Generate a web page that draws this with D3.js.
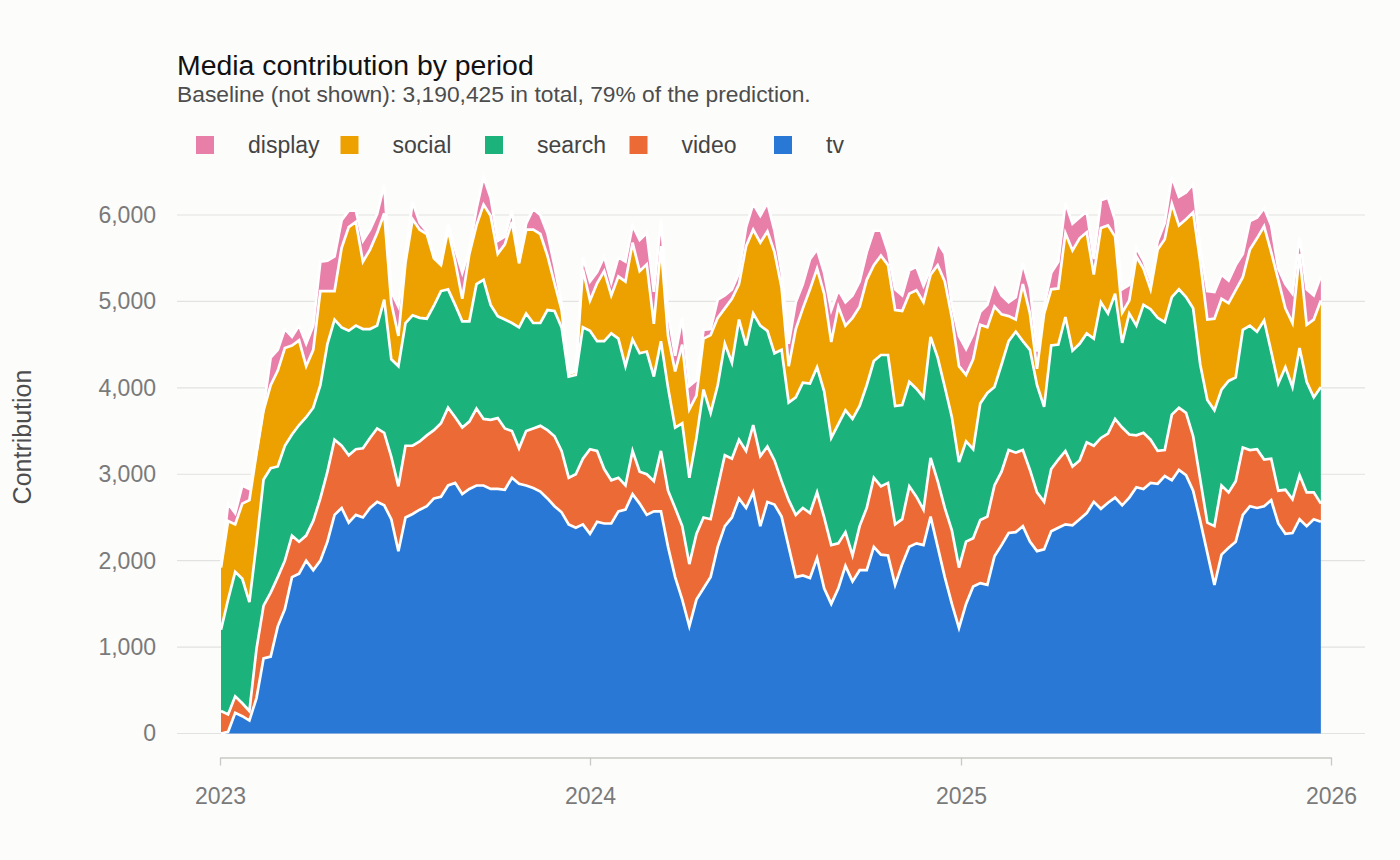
<!DOCTYPE html>
<html>
<head>
<meta charset="utf-8">
<script src="https://cdn.jsdelivr.net/npm/d3@7"></script>
<style>
  body { margin: 0; background: #fcfcfb; }
  text { font-family: "Liberation Sans", Arial, sans-serif; }
</style>
</head>
<body>
<svg id="chart"></svg>
<script>
// stacking order, bottom first
const series_names = ["tv", "video", "search", "social", "display"];
const legend_order = ["display", "social", "search", "video", "tv"];
const series_colors = ["#2a78d6", "#ec6a36", "#1cb27b", "#eda100", "#e87fa8"];

// weekly contribution per channel
const tv = [0,20,240,200,150,410,870,890,1240,1440,
  1810,1850,2000,1890,2000,2220,2530,2610,2440,2530,
  2500,2610,2680,2640,2480,2110,2500,2540,2590,2630,
  2720,2740,2870,2900,2770,2830,2870,2870,2830,2830,
  2820,2960,2890,2870,2840,2800,2720,2630,2560,2420,
  2380,2420,2310,2450,2430,2430,2570,2590,2770,2660,
  2530,2570,2570,2160,1810,1550,1240,1550,1680,1810,
  2160,2400,2500,2720,2610,2790,2400,2680,2650,2510,
  2160,1810,1830,1800,2030,1680,1500,1680,1940,1760,
  1890,1890,2160,2070,2060,1720,1960,2160,2200,2180,
  2510,2160,1810,1500,1220,1500,1700,1740,1720,2050,
  2180,2320,2330,2400,2220,2110,2130,2340,2380,2420,
  2410,2480,2550,2680,2600,2670,2730,2640,2730,2850,
  2830,2900,2890,2980,2930,3050,2990,2810,2460,2090,
  1720,2070,2150,2220,2530,2630,2610,2630,2700,2430,
  2310,2320,2480,2400,2480,2450];

const video = [260,200,190,150,110,570,610,740,570,560,
  480,370,290,570,720,810,870,720,780,760,
  800,810,850,840,720,750,830,790,790,820,
  790,850,900,760,770,780,890,770,800,820,
  710,540,410,630,690,760,790,810,710,540,
  620,760,980,820,630,500,390,280,500,370,
  470,350,700,650,800,850,720,760,820,670,
  690,820,680,680,660,780,810,640,510,410,
  540,720,780,750,760,820,680,520,390,300,
  510,720,800,790,840,700,520,700,540,410,
  680,760,800,850,700,720,560,730,790,820,
  850,960,920,880,830,680,550,720,790,850,
  680,680,820,650,820,800,910,900,730,600,
  650,500,380,300,760,720,720,630,480,350,
  680,800,640,700,780,650,680,540,480,380,
  510,390,510,390,310,210];

const search = [940,1330,1440,1440,1260,1220,1460,1440,1280,1330,
  1170,1350,1370,1310,1310,1480,1390,1370,1440,1430,
  1380,1260,1190,1540,1130,1390,1420,1510,1430,1350,
  1440,1530,1370,1300,1230,1160,1440,1610,1330,1180,
  1260,1250,1400,1360,1220,1190,1390,1450,1430,1170,
  1150,1520,1370,1270,1480,1700,1610,1380,1290,1370,
  1420,1210,1270,1190,930,1190,1000,1110,1480,1230,
  1180,1290,1110,1390,1220,1290,1510,1340,1240,1520,
  1130,1360,1450,1500,1450,1460,1240,1380,1410,1580,
  1390,1420,1350,1520,1480,1370,1320,1210,1250,1300,
  1400,1430,1400,1310,1220,1160,1030,1350,1430,1140,
  1240,1260,1400,1260,1390,1240,1100,1430,1330,1550,
  1340,1350,1260,1240,1570,1390,1450,980,1400,1270,
  1480,1510,1540,1480,1360,1370,1340,1480,1330,1420,
  1340,1110,1290,1200,1360,1440,1360,1610,1240,1240,
  1420,1300,1470,1280,1100,1350];

const social = [720,910,550,870,1180,1040,800,960,1110,1130,
  1030,980,590,670,1090,610,330,920,1200,1200,
  780,920,1070,1000,650,350,700,1110,1020,980,
  550,300,690,500,260,780,680,870,1030,720,
  870,1170,740,970,1080,1030,630,320,200,30,
  40,670,350,670,810,440,720,980,1120,950,
  1010,610,1100,600,650,910,790,490,590,900,
  780,410,740,410,1150,970,960,1150,1170,720,
  420,790,860,1090,1140,1130,1110,1360,980,1170,
  1150,1220,1110,1150,1040,1110,1090,1020,1140,1100,
  720,1070,1220,1150,1110,770,1040,910,760,930,
  580,290,140,660,420,190,1080,650,650,970,
  1160,1220,1170,740,860,1020,660,350,150,800,
  420,230,790,960,1080,740,900,1110,1190,930,
  1060,1050,900,1010,610,880,1080,1090,1150,1200,
  680,740,1090,660,900,1000];

const display = [30,200,130,210,130,20,30,320,240,220,
  100,170,260,280,340,350,400,320,190,130,
  240,230,220,330,130,340,100,200,80,30,
  20,20,70,140,300,50,190,320,210,150,
  90,130,20,70,240,220,260,200,80,10,
  10,140,220,130,170,150,220,230,200,360,
  360,370,310,260,180,310,270,180,100,70,
  210,150,110,130,220,300,310,330,250,180,
  260,310,280,350,220,240,370,190,270,260,
  290,320,400,290,150,240,180,270,270,190,
  70,260,320,150,350,300,290,150,260,290,
  220,160,260,240,300,200,80,190,310,350,
  310,240,240,180,320,320,190,270,180,100,
  90,100,100,190,310,330,310,330,160,330,
  310,280,260,290,270,330,240,210,310,130,
  280,340,200,410,280,280];

const y_ticks = [0, 1000, 2000, 3000, 4000, 5000, 6000];
const x_ticks = ["2023-01-01", "2024-01-01", "2025-01-01", "2026-01-01"];

const title = "Media contribution by period";
const subtitle = "Baseline (not shown): 3,190,425 in total, 79% of the prediction.";

// weekly periods, Mondays from 2023-01-02 to 2025-12-22
const weeks = d3.timeMonday.range(new Date(2023, 0, 2), new Date(2025, 11, 23));
const values = { tv: tv, video: video, search: search, social: social, display: display };
const rows = weeks.map((d, i) => {
  const row = { date: d };
  series_names.forEach(k => row[k] = values[k][i]);
  return row;
});

const svg = d3.select("#chart").attr("width", 1400).attr("height", 860);
svg.append("rect").attr("width", 1400).attr("height", 860).attr("fill", "#fcfcfb");

const parse = d3.timeParse("%Y-%m-%d");
const x = d3.scaleTime().domain([parse("2023-01-01"), parse("2026-01-01")]).range([220, 1331]);
const y = d3.scaleLinear().domain([0, 6000]).range([733.5, 215]);
const color = d3.scaleOrdinal(series_names, series_colors);

// grid
svg.append("g")
   .selectAll("line")
   .data(y_ticks)
   .enter()
   .append("line")
   .attr("x1", 177).attr("x2", 1365)
   .attr("y1", d => y(d)).attr("y2", d => y(d))
   .attr("stroke", "#e2e2e0")
   .attr("stroke-width", 1.1);

const stacked = d3.stack().keys(series_names)(rows);

const area = d3.area()
               .x(d => x(d.data.date))
               .y0(d => y(d[0]))
               .y1(d => y(d[1]));
const top_line = d3.line()
                   .x(d => x(d.data.date))
                   .y(d => y(d[1]));

const plot = svg.append("g");
plot.selectAll("path.area")
    .data(stacked)
    .enter()
    .append("path")
    .attr("class", "area")
    .attr("d", area)
    .attr("fill", d => color(d.key));

plot.selectAll("path.edge")
    .data(stacked)
    .enter()
    .append("path")
    .attr("class", "edge")
    .attr("d", top_line)
    .attr("fill", "none")
    .attr("stroke", "white")
    .attr("stroke-width", 2.7)
    .attr("stroke-linejoin", "miter");

// y axis
const y_axis = svg.append("g")
                  .attr("transform", "translate(177,0)")
                  .call(d3.axisLeft(y).tickValues(y_ticks).tickFormat(d3.format(",")).tickSize(0).tickPadding(21));
y_axis.select(".domain").remove();
y_axis.selectAll("text")
      .attr("fill", "#7a7a7a")
      .style("font-size", "23px");

// x axis
const x_axis = svg.append("g")
                  .attr("transform", "translate(0,757.5)")
                  .call(d3.axisBottom(x).tickValues(x_ticks.map(parse)).tickFormat(d3.timeFormat("%Y"))
                          .tickSize(8).tickSizeOuter(0).tickPadding(22));
x_axis.select(".domain").attr("stroke", "#c9c9c5").attr("stroke-width", 1.3);
x_axis.selectAll(".tick line").attr("stroke", "#c9c9c5").attr("stroke-width", 1.3);
x_axis.selectAll("text")
      .attr("fill", "#7a7a7a")
      .style("font-size", "23px");

svg.append("text")
   .attr("transform", "translate(22,437) rotate(-90)")
   .attr("text-anchor", "middle")
   .attr("dominant-baseline", "central")
   .attr("fill", "#4d4d4d")
   .style("font-size", "25px")
   .text("Contribution");

// titles
svg.append("text")
   .attr("x", 177).attr("y", 75)
   .attr("fill", "#111")
   .style("font-size", "28.4px")
   .text(title);
svg.append("text")
   .attr("x", 177).attr("y", 102)
   .attr("fill", "#4d4d4d")
   .style("font-size", "22.8px")
   .text(subtitle);

// legend
const legend = svg.append("g")
                  .selectAll("g")
                  .data(legend_order)
                  .enter()
                  .append("g")
                  .attr("transform", (d, i) => "translate(" + (196 + i * 144.5) + ",136)");
legend.append("rect")
      .attr("width", 18).attr("height", 18)
      .attr("fill", d => color(d));
legend.append("text")
      .attr("x", 52).attr("y", 9)
      .attr("dominant-baseline", "central")
      .attr("fill", "#444")
      .style("font-size", "23px")
      .text(d => d);
</script>
</body>
</html>
